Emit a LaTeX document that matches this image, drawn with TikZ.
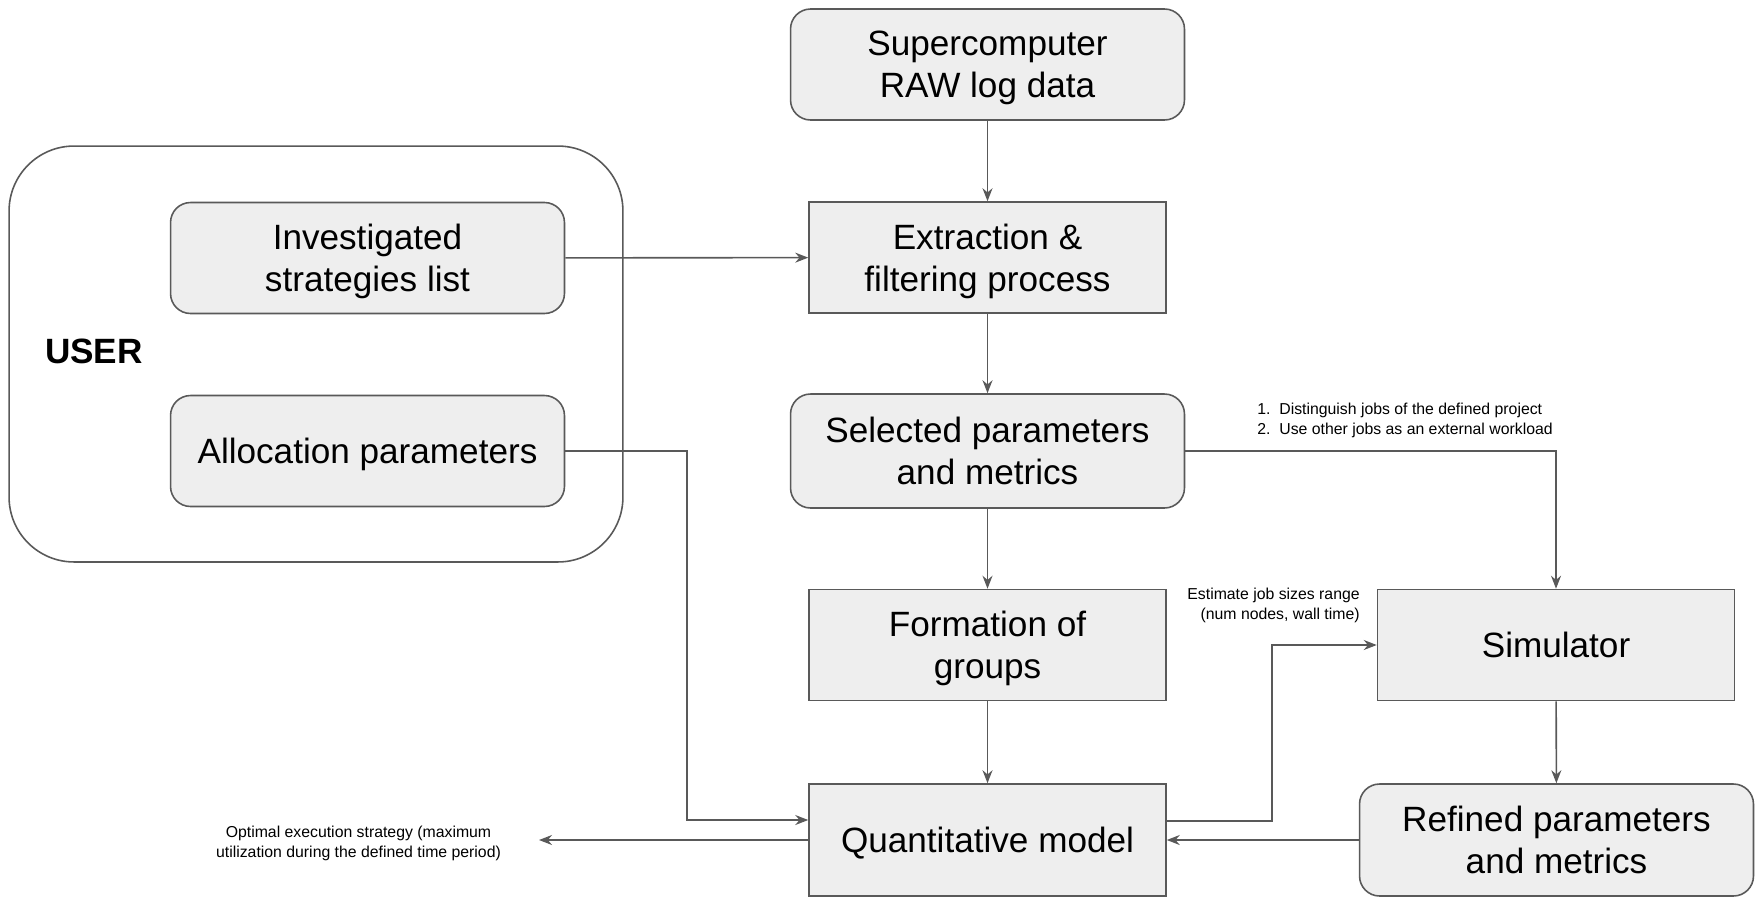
\documentclass[tikz,border=0pt]{standalone}
\usepackage{fontspec}
\setmainfont{Liberation Sans}
\usepackage{tikz}
\usetikzlibrary{positioning, shapes, arrows.meta}

\definecolor{linegray}{HTML}{595959}
\definecolor{boxgray}{HTML}{EEEEEE}

\begin{document}
\begin{tikzpicture}[
    x=0.02cm, y=-0.02cm,
    every node/.style={align=center, font=\fontsize{20}{24}\selectfont},
    >={Stealth[length=2.6mm,width=2mm]},
    procbox/.style={draw=linegray, fill=boxgray, line width=0.9pt, text depth=0pt,
        minimum width=7.14cm, minimum height=2.22cm, inner sep=0pt},
    databox/.style={procbox, rounded corners=0.4cm, minimum width=7.88cm},
    flow/.style={->, draw=linegray, line width=0.9pt},
    note/.style={font=\fontsize{9}{11.4}\selectfont, inner sep=0pt}
]
    \useasboundingbox (0,0) rectangle (1757,896);

    % user side
    \node[draw=linegray, line width=0.9pt, rounded corners=1.3cm,
        minimum width=12.28cm, minimum height=8.32cm] (user) at (316,354) {};
    \node[font=\fontsize{20}{24}\selectfont\bfseries] (userlbl) at (94,351) {USER};
    \node[databox] (strat) at (367.5,258) {Investigated\\strategies list};
    \node[databox] (alloc) at (367.5,451) {Allocation parameters};

    % main chain
    \node[databox] (raw) at (987.5,64.5) {Supercomputer\\RAW log data};
    \node[procbox] (extract) at (987.5,257.5) {Extraction \&\\filtering process};
    \node[databox, minimum height=2.28cm] (select) at (987.5,451) {Selected parameters\\and metrics};
    \node[procbox] (groups) at (987.5,645) {Formation of\\groups};
    \node[procbox, minimum height=2.24cm] (quant) at (987.5,840) {Quantitative model};

    \node[procbox] (sim) at (1556,645) {Simulator};
    \node[databox, minimum height=2.24cm] (refined) at (1556.5,840) {Refined parameters\\and metrics};

    \coordinate (result) at (539,840);

    \draw[flow] (raw) -- (extract);
    \draw[flow] (extract) -- (select);
    \draw[flow] (select) -- (groups);
    \draw[flow] (groups) -- (quant);
    \draw[flow] (strat) -- (extract);
    \draw[flow] (alloc.east) -| (687,636) |- ([yshift=0.4cm]quant.west);
    \draw[flow] (select.east) -| (sim.north);
    \draw[flow] ([yshift=0.38cm]quant.east) -| (1272,700) |- (sim.west);
    \draw[flow] (sim) -- (refined);
    \draw[flow] (refined) -- (quant);
    \draw[flow] (quant) -- (result);

    \node[note, align=left, anchor=west] (stepnote) at (1257,420)
        {1.\ \ Distinguish jobs of the defined project\\2.\ \ Use other jobs as an external workload};
    \node[note, align=right, anchor=east] (sizenote) at (1360,605)
        {Estimate job sizes range\\(num nodes, wall time)};
    \node[note] (resultnote) at (358.5,843)
        {Optimal execution strategy (maximum\\utilization during the defined time period)};
\end{tikzpicture}
\end{document}
